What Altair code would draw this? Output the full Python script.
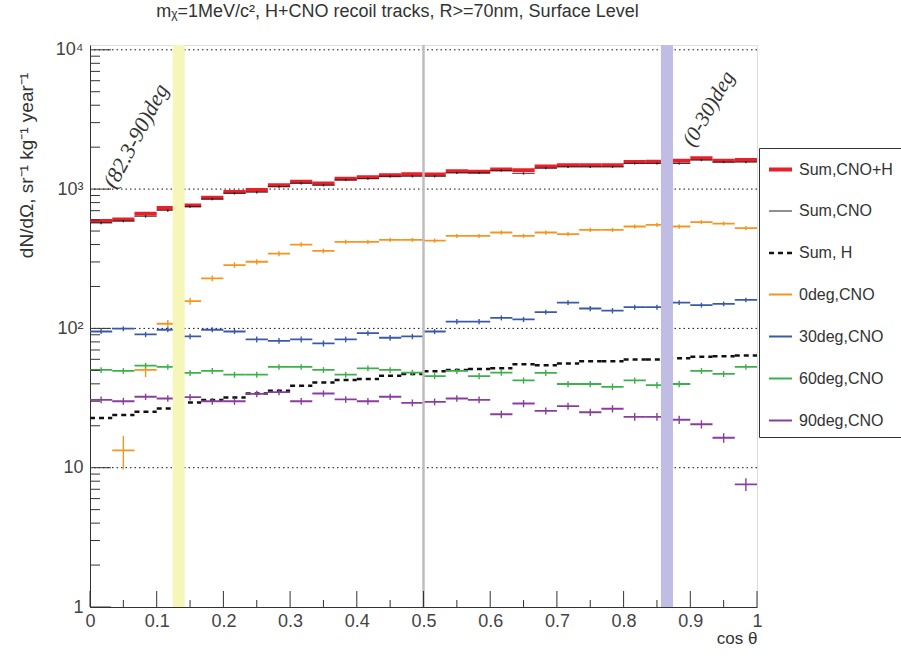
import altair as alt
import pandas as pd
import numpy as np

# ---------------- data ----------------
n_bins = 30
edges = np.linspace(0, 1, n_bins + 1)

series_names = ["Sum,CNO+H", "Sum,CNO", "Sum, H", "0deg,CNO", "30deg,CNO", "60deg,CNO", "90deg,CNO"]
series_colors = ["#e8202a", "#222222", "#111111", "#f7941e", "#3a5aa8", "#3cb04a", "#8b3d9e"]
series_widths = [4.0, 1.0, 2.5, 1.8, 1.8, 1.8, 1.8]
series_dashes = [[1, 0], [1, 0], [5, 4], [1, 0], [1, 0], [1, 0], [1, 0]]

sum_cno_h = [590, 605, 665, 731, 764, 868, 955, 987, 1066, 1128, 1096, 1185, 1218, 1259, 1279,
             1273, 1345, 1331, 1383, 1368, 1453, 1485, 1485, 1485, 1562, 1571, 1597, 1667, 1597, 1616]
sum_cno = [572, 590, 637, 703, 751, 849, 933, 949, 1042, 1102, 1066, 1165, 1191, 1236, 1236,
           1236, 1309, 1309, 1361, 1295, 1413, 1446, 1446, 1446, 1528, 1528, 1528, 1616, 1562, 1562]
sum_h = [22.7, 23.9, 25.2, 26.6, 29.4, 30.6, 31.9, 34.1, 35.7, 38.7, 40.9, 42.6, 43.4, 45.8, 47.1,
         49.2, 50.3, 51.2, 51.7, 55.2, 54.3, 55.9, 58.1, 58.1, 59.7, 59.7, 61.1, 62.5, 63.0, 64.0]
deg0 = [None, 13.3, 50.3, 108, 157, 229, 285, 301, 344, 400, 360, 418, 418, 432, 432,
        427, 461, 461, 488, 461, 488, 475, 510, 510, 539, 554, 539, 580, 566, 525]
deg30 = [95, 99.5, 90.5, 97.8, 87.6, 97.8, 95, 83.3, 81.5, 83.3, 78, 83.3, 92.5, 85.7, 87.6,
         95, 112, 112, 119, 116, 131, 153, 139, 134, 142, 142, 153, 147, 150, 160]
deg60 = [50.3, 49.5, 54, 52.9, 47.9, 49.5, 46.5, 46.5, 52.9, 52.9, 50.3, 46.5, 51.7, 50.3, 48.1,
         45.5, 49.5, 45.5, 48.1, 42.3, 48, 39.9, 39.9, 38.1, 42.3, 39.2, 39.9, 49.5, 47.1, 52.9]
deg90 = [30.7, 30.0, 32.3, 31.4, 32.1, 30.0, 30.0, 33.9, 34.9, 30.0, 34.1, 30.9, 30.0, 32.3, 29.2,
         29.7, 31.4, 30.7, 24.2, 28.9, 25.6, 27.7, 25.0, 26.5, 23.2, 23.2, 22.1, 20.5, 16.4, 7.6]

err_cno = [12, 12, 13, 14, 15, 16, 18, 18, 20, 21, 20, 22, 22, 23, 23,
           23, 24, 24, 25, 24, 26, 26, 26, 26, 27, 27, 27, 28, 27, 27]
err_deg0 = [None, 3.6, 5.5, 7, 9, 11, 13, 13, 14, 15, 14, 15, 15, 15, 15,
            15, 16, 16, 17, 16, 17, 17, 18, 18, 18, 19, 19, 19, 19, 18]
err_deg30 = [4, 4, 4, 4, 4, 4, 4, 4, 4, 4, 4, 4, 4, 4, 4,
             4, 5, 5, 5, 5, 5, 6, 6, 6, 6, 6, 6, 6, 6, 6]
err_deg60 = [2.4, 2.4, 2.6, 2.5, 2.4, 2.4, 2.3, 2.3, 2.5, 2.5, 2.4, 2.3, 2.5, 2.4, 2.4,
             2.3, 2.4, 2.3, 2.4, 2.2, 2.4, 2.1, 2.1, 2.1, 2.2, 2.1, 2.1, 2.4, 2.3, 2.5]
err_deg90 = [1.7, 1.7, 1.7, 1.7, 1.7, 1.7, 1.7, 1.8, 1.8, 1.7, 1.8, 1.7, 1.7, 1.7, 1.7,
             1.7, 1.7, 1.7, 1.5, 1.7, 1.5, 1.6, 1.5, 1.6, 1.5, 1.5, 1.5, 1.4, 1.3, 0.8]

series_values = [sum_cno_h, sum_cno, sum_h, deg0, deg30, deg60, deg90]
series_errors = [None, err_cno, None, err_deg0, err_deg30, err_deg60, err_deg90]

band_lo = [0.124, 0.856]
band_hi = [0.142, 0.874]
band_colors = ["#f6f6b9", "#c0bce3"]
gray_line_x = [0.5]

grid_y = [10, 100, 1000, 10000]
xtick_major = [0, 0.1, 0.2, 0.3, 0.4, 0.5, 0.6, 0.7, 0.8, 0.9, 1.0]
xtick_labels = ["0", "0.1", "0.2", "0.3", "0.4", "0.5", "0.6", "0.7", "0.8", "0.9", "1"]
xtick_minor = [0.05, 0.15, 0.25, 0.35, 0.45, 0.55, 0.65, 0.75, 0.85, 0.95]
ytick_major = [1, 10, 100, 1000, 10000]
ytick_labels = ["1", "10", "10²", "10³", "10⁴"]
ytick_minor = [m * d for d in [1, 10, 100, 1000] for m in range(2, 10)]

annot_texts = ["(82.3-90)deg", "(0-30)deg"]

title_text = "mᵪ=1MeV/c², H+CNO recoil tracks, R>=70nm, Surface Level"
y_title = "dN/dΩ, sr⁻¹ kg⁻¹ year⁻¹"
x_title = "cos θ"

# ---------------- tables ----------------
seg_rows, err_rows = [], []
for name, vals, errs in zip(series_names, series_values, series_errors):
    for i, v in enumerate(vals):
        if v is None:
            continue
        seg_rows.append({"series": name, "lo": edges[i], "hi": edges[i + 1], "val": v})
        if errs is not None and errs[i] is not None:
            err_rows.append({"series": name, "mid": (edges[i] + edges[i + 1]) / 2,
                             "elo": v - errs[i], "ehi": v + errs[i]})
seg_df = pd.DataFrame(seg_rows)
err_df = pd.DataFrame(err_rows)

W, H = 667, 562
xscale = alt.Scale(domain=[0, 1], nice=False, zero=False)
yscale = alt.Scale(type="log", domain=[1, 10826], nice=False)

lab_expr = " : ".join(
    [f"datum.value == {v} ? '{l}'" for v, l in zip(ytick_major[:-1], ytick_labels[:-1])]
) + f" : '{ytick_labels[-1]}'"
xlab_expr = " : ".join(
    [f"abs(datum.value - {v}) < 1e-6 ? '{l}'" for v, l in zip(xtick_major[:-1], xtick_labels[:-1])]
) + f" : '{xtick_labels[-1]}'"

FONT = "Liberation Sans"

x_axis = alt.Axis(values=xtick_major, labelExpr=xlab_expr, ticks=False, grid=False,
                  labelFontSize=18, labelFont=FONT, labelColor="#444", labelPadding=5,
                  domainColor="#333", title=x_title, titleFont=FONT, titleFontSize=17,
                  titleFontWeight="normal", titleColor="#333", titleAnchor="end",
                  titleX=W, titleY=31, titleAlign="right", titleBaseline="middle",
                  labelFlush=False)
y_axis = alt.Axis(values=ytick_major, labelExpr=lab_expr, ticks=False, grid=False,
                  labelFontSize=18, labelFont=FONT, labelColor="#444", labelPadding=7,
                  domainColor="#333", title=y_title, titleFont=FONT, titleFontSize=19,
                  titleFontWeight="normal", titleColor="#333", titleX=-64, titleY=120,
                  titleAngle=270, titleAlign="center", titleBaseline="middle")

grid = alt.Chart(pd.DataFrame({"g": grid_y})).mark_rule(
    color="#111", strokeDash=[1.5, 3], strokeWidth=1
).encode(y=alt.Y("g:Q", scale=yscale, axis=y_axis))

legend = alt.Legend(title=None, orient="none", legendX=669, legendY=103,
                    symbolType="stroke", symbolSize=529, labelFontSize=16, labelFont=FONT,
                    labelColor="#333", padding=8, rowPadding=21, strokeColor="#333",
                    fillColor="white", labelOffset=5)

segs = alt.Chart(seg_df).mark_rule().encode(
    x=alt.X("lo:Q", scale=xscale, axis=x_axis),
    x2="hi:Q",
    y=alt.Y("val:Q", scale=yscale),
    color=alt.Color("series:N", scale=alt.Scale(domain=series_names, range=series_colors), legend=legend),
    strokeWidth=alt.StrokeWidth("series:N", scale=alt.Scale(type="ordinal", domain=series_names, range=series_widths)),
    strokeDash=alt.StrokeDash("series:N", scale=alt.Scale(domain=series_names, range=series_dashes)),
)

errs = alt.Chart(err_df).mark_rule(strokeWidth=1.4).encode(
    x=alt.X("mid:Q", scale=xscale),
    y=alt.Y("elo:Q", scale=yscale),
    y2="ehi:Q",
    color=alt.Color("series:N", scale=alt.Scale(domain=series_names, range=series_colors), legend=None),
)

bands = alt.Chart(pd.DataFrame({"lo": band_lo, "hi": band_hi, "c": band_colors})).mark_rect().encode(
    x=alt.X("lo:Q", scale=xscale), x2="hi:Q", color=alt.Color("c:N", scale=None)
)

gline = alt.Chart(pd.DataFrame({"x": gray_line_x})).mark_rule(color="#bdbdbd", strokeWidth=2.5).encode(
    x=alt.X("x:Q", scale=xscale)
)

xt_major = alt.Chart(pd.DataFrame({"t": xtick_major})).mark_rule(color="#333").encode(
    x=alt.X("t:Q", scale=xscale), y=alt.value(H), y2=alt.value(H - 16))
xt_minor = alt.Chart(pd.DataFrame({"t": xtick_minor})).mark_rule(color="#333").encode(
    x=alt.X("t:Q", scale=xscale), y=alt.value(H), y2=alt.value(H - 7))
yt_major = alt.Chart(pd.DataFrame({"t": ytick_major})).mark_rule(color="#333").encode(
    y=alt.Y("t:Q", scale=yscale), x=alt.value(0), x2=alt.value(21))
yt_minor = alt.Chart(pd.DataFrame({"t": ytick_minor})).mark_rule(color="#333").encode(
    y=alt.Y("t:Q", scale=yscale), x=alt.value(0), x2=alt.value(10))

annot1 = alt.Chart(pd.DataFrame({"t": [annot_texts[0]]})).mark_text(
    font="Liberation Serif", fontStyle="italic", fontSize=22, color="#333", angle=298,
    align="center", baseline="middle").encode(text="t:N", x=alt.value(46), y=alt.value(91))
annot2 = alt.Chart(pd.DataFrame({"t": [annot_texts[1]]})).mark_text(
    font="Liberation Serif", fontStyle="italic", fontSize=21, color="#333", angle=300,
    align="center", baseline="middle").encode(text="t:N", x=alt.value(619), y=alt.value(64))

chart = alt.layer(grid, segs, errs, bands, gline, xt_major, xt_minor, yt_major, yt_minor, annot1, annot2).properties(
    width=W, height=H,
    title=alt.TitleParams(title_text, font=FONT, fontSize=18, fontWeight="normal", color="#333",
                          anchor="middle", frame="group", offset=20, dx=-26),
    padding={"left": 90, "top": 45, "right": 901 - 90 - W, "bottom": 656 - 45 - H},
    autosize="none",
).configure_view(stroke="#444", strokeWidth=1).configure(background="white")

chart.save("out.html", embed_options={"renderer": "svg", "actions": False})
